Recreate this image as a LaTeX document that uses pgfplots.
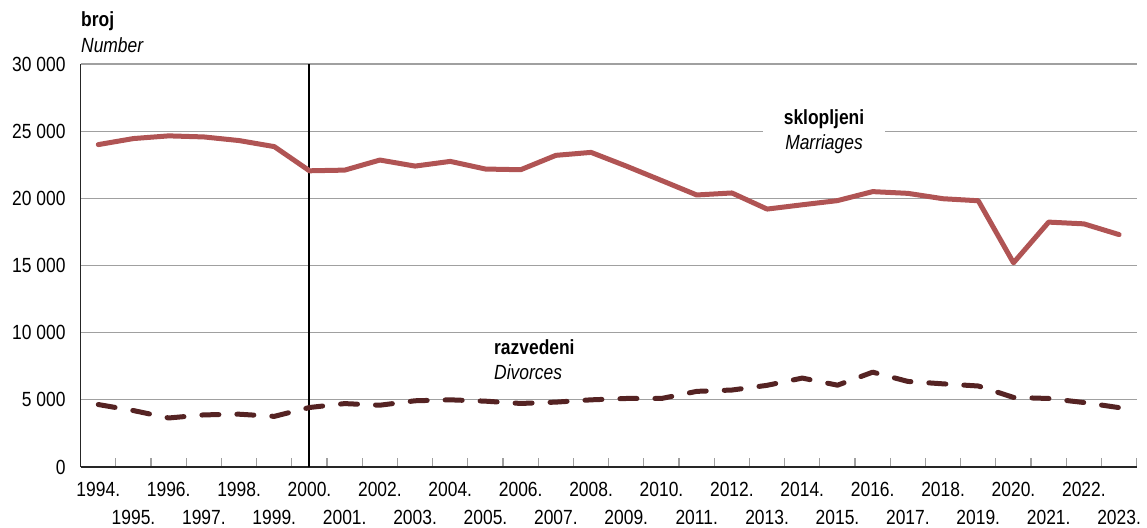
\documentclass[border=0pt]{standalone}
\usepackage{fontspec}
\setmainfont{Liberation Sans}[FakeStretch=0.85]
\usepackage{pgfplots}
\pgfplotsset{compat=1.18}
\definecolor{marr}{RGB}{176,84,84}
\definecolor{divc}{RGB}{85,35,35}
\definecolor{gridc}{RGB}{160,160,160}
\begin{document}%
\begin{tikzpicture}[font=\fontsize{20.5}{25}\selectfont]
\path[use as bounding box] (0,0) rectangle (1147pt,527pt);
\begin{axis}[
  at={(80.7pt,60pt)}, anchor=south west,
  scale only axis, width=1056pt, height=403pt,
  xmin=1993.5, xmax=2023.5, ymin=0, ymax=30000,
  axis x line*=bottom, axis y line*=left,
  axis line style={line width=1.5pt, black!85},
  scaled y ticks=false,
  xtick={1994,1996,1998,2000,2002,2004,2006,2008,2010,2012,2014,2016,2018,2020,2022},
  xticklabels={1994.,1996.,1998.,2000.,2002.,2004.,2006.,2008.,2010.,2012.,2014.,2016.,2018.,2020.,2022.},
  extra x ticks={1995,1997,1999,2001,2003,2005,2007,2009,2011,2013,2015,2017,2019,2021,2023},
  extra x tick labels={1995.,1997.,1999.,2001.,2003.,2005.,2007.,2009.,2011.,2013.,2015.,2017.,2019.,2021.,2023.},
  extra x tick style={xticklabel style={yshift=-28pt}},
  xticklabel style={anchor=north, inner sep=0pt, yshift=-15pt},
  minor xtick={1993.5,1994.5,...,2023.5},
  major tick length=0pt,
  minor tick length=9pt,
  tick align=inside,
  minor tick style={gridc, line width=1.2pt},
  ytick={0,5000,10000,15000,20000,25000,30000},
  yticklabels={0,5 000,10 000,15 000,20 000,25 000,30 000},
  yticklabel style={anchor=east, inner sep=0pt, xshift=-15pt},
  ymajorgrids,
  major grid style={gridc, line width=1.3pt},
  clip=false,
]
\addplot[black, line width=2pt] coordinates {(2000,0) (2000,30000)};
\addplot[marr, line width=5pt, line join=round, line cap=round] coordinates {
(1994,24000) (1995,24450) (1996,24650) (1997,24570) (1998,24300) (1999,23850)
(2000,22050) (2001,22100) (2002,22850) (2003,22400) (2004,22750) (2005,22180)
(2006,22130) (2007,23200) (2008,23420) (2009,22400) (2010,21330) (2011,20250)
(2012,20400) (2013,19200) (2014,19520) (2015,19830) (2016,20500) (2017,20370)
(2018,19970) (2019,19820) (2020,15200) (2021,18230) (2022,18100) (2023,17300)};
\addplot[divc, line width=5pt, line join=round, line cap=round, dash pattern=on 17pt off 18pt] coordinates {
(1994,4650) (1995,4200) (1996,3650) (1997,3880) (1998,3930) (1999,3770)
(2000,4430) (2001,4720) (2002,4600) (2003,4930) (2004,5000) (2005,4900)
(2006,4730) (2007,4830) (2008,5000) (2009,5100) (2010,5100) (2011,5630)
(2012,5730) (2013,6080) (2014,6620) (2015,6090) (2016,7060) (2017,6370)
(2018,6190) (2019,6030) (2020,5180) (2021,5100) (2022,4800) (2023,4420)};
\end{axis}
\node[fill=white, minimum width=122pt, minimum height=8pt, inner sep=0pt] at (824pt,395.4pt) {};
\node[anchor=base, inner sep=0pt] at (824pt,402pt) {\bfseries sklopljeni};
\node[anchor=base, inner sep=0pt] at (824pt,377pt) {\itshape Marriages};
\node[anchor=base west, inner sep=0pt] at (494pt,172pt) {\bfseries razvedeni};
\node[anchor=base west, inner sep=0pt] at (494pt,147pt) {\itshape Divorces};
\node[anchor=base west, inner sep=0pt] at (81pt,500pt) {\bfseries broj};
\node[anchor=base west, inner sep=0pt] at (81pt,474pt) {\itshape Number};
\end{tikzpicture}%
\end{document}
